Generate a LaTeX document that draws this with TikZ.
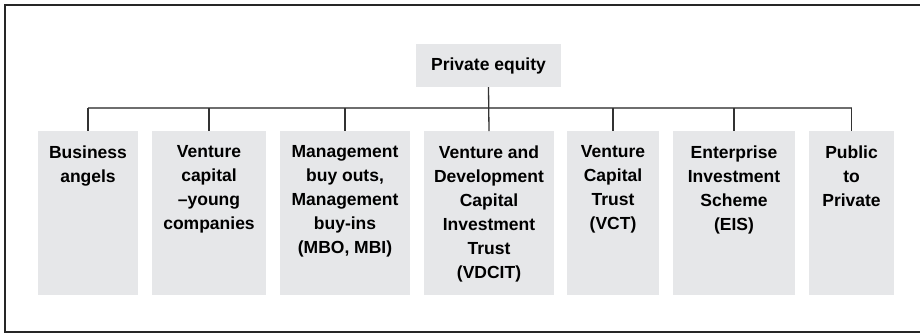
\documentclass[tikz,border=0pt]{standalone}
\usepackage{fontspec}
\setmainfont{Liberation Sans}
\definecolor{boxgray}{HTML}{E6E7E9}
\definecolor{hline}{HTML}{6E6E6E}
\definecolor{vline}{HTML}{333333}
\begin{document}
\begin{tikzpicture}[x=1pt,y=-1pt,
  leaftext/.style={font=\bfseries\fontsize{17.5}{24}\selectfont, align=center, anchor=north, inner sep=0pt},
  conn/.style={draw=vline, line width=1.3pt}]
\useasboundingbox (0,0) rectangle (920,333);
\draw[line width=1.6pt, draw=black!85] (925,5) -- (5,5) -- (5,332) -- (925,332);
% top node
\node[fill=boxgray, minimum width=145pt, minimum height=43pt, inner sep=0pt,
  font=\bfseries\fontsize{17.5}{24}\selectfont] (top) at (488.5,65.5) {Private equity};
% leaf boxes (filled rectangles with text)
\newcommand{\leafbox}[4]{%
  \fill[boxgray] (#2,131) rectangle (#3,295);
  \coordinate (#1) at ({(#2+#3)/2},131);
  \node[leaftext] (#1t) at ({(#2+#3)/2},145.5) {#4};}
\leafbox{b1}{38}{138}{Business\\angels}
\leafbox{b2}{152}{266}{Venture\\capital\\–young\\companies}
\leafbox{b3}{280}{410}{Management\\buy outs,\\Management\\buy-ins\\(MBO, MBI)}
\leafbox{b4}{424}{554}{Venture and\\Development\\Capital\\Investment\\Trust\\(VDCIT)}
\leafbox{b5}{567}{659}{Venture\\Capital\\Trust\\(VCT)}
\leafbox{b6}{673}{795}{Enterprise\\Investment\\Scheme\\(EIS)}
\leafbox{b7}{809}{894}{Public\\to\\Private}
% connectors
\coordinate (hl) at (88,108);
\coordinate (hr) at (852,108);
\draw[draw=hline, line width=1.5pt] (b1 |- hl) -- (b7 |- hr);
\draw[conn] (top.south) -- (b4);
\foreach \n in {b1,b2,b3,b5,b6,b7} \draw[conn] (\n |- hl) -- (\n);
\end{tikzpicture}
\end{document}
